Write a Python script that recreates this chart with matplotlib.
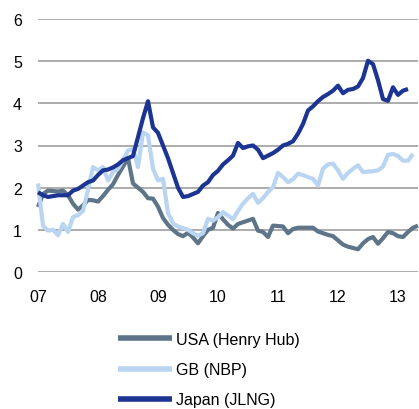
import matplotlib
matplotlib.use("Agg")
import matplotlib.pyplot as plt

plt.rcParams['font.family'] = ['Liberation Sans', 'DejaVu Sans']

year_labels = ["07", "08", "09", "10", "11", "12", "13"]

usa = [1.54, 1.85, 1.93, 1.92, 1.91, 1.93, 1.82, 1.62, 1.48, 1.58,
       1.71, 1.70, 1.67, 1.80, 1.95, 2.08, 2.30, 2.50, 2.70, 2.10,
       2.00, 1.90, 1.75, 1.74, 1.55, 1.28, 1.12, 1.00, 0.90, 0.85,
       0.93, 0.82, 0.68, 0.85, 1.00, 1.05, 1.40, 1.25, 1.12, 1.03,
       1.14, 1.18, 1.22, 1.26, 0.98, 0.95, 0.83, 1.10, 1.09, 1.08,
       0.92, 1.02, 1.05, 1.05, 1.05, 1.05, 0.96, 0.92, 0.88, 0.85,
       0.75, 0.65, 0.60, 0.57, 0.54, 0.68, 0.78, 0.83, 0.67, 0.80,
       0.95, 0.92, 0.85, 0.83, 0.95, 1.05, 1.10]

gb = [2.10, 1.10, 0.98, 1.00, 0.87, 1.14, 0.95, 1.30, 1.35, 1.45,
      1.95, 2.49, 2.41, 2.49, 2.17, 2.37, 2.45, 2.65, 2.88, 2.92,
      2.49, 3.31, 3.24, 2.45, 2.17, 2.21, 1.40, 1.15, 1.08, 1.04,
      1.00, 0.92, 0.86, 0.92, 1.26, 1.22, 1.30, 1.42, 1.34, 1.25,
      1.45, 1.62, 1.75, 1.85, 1.64, 1.75, 1.90, 2.01, 2.35, 2.25,
      2.13, 2.20, 2.33, 2.30, 2.25, 2.21, 2.05, 2.45, 2.55, 2.57,
      2.41, 2.21, 2.35, 2.45, 2.53, 2.37, 2.38, 2.39, 2.41, 2.50,
      2.78, 2.80, 2.75, 2.64, 2.64, 2.80]

japan = [1.89, 1.82, 1.78, 1.80, 1.82, 1.82, 1.82, 1.93, 1.97, 2.05,
         2.13, 2.17, 2.30, 2.41, 2.43, 2.48, 2.55, 2.65, 2.70, 2.75,
         3.20, 3.65, 4.05, 3.43, 3.30, 3.00, 2.70, 2.35, 2.00, 1.78,
         1.80, 1.85, 1.90, 2.05, 2.13, 2.30, 2.40, 2.55, 2.65, 2.76,
         3.06, 2.94, 2.98, 3.00, 2.90, 2.70, 2.76, 2.82, 2.90, 3.00,
         3.04, 3.10, 3.28, 3.51, 3.83, 3.93, 4.05, 4.15, 4.22, 4.30,
         4.42, 4.24, 4.32, 4.34, 4.40, 4.60, 5.01, 4.93, 4.55, 4.10,
         4.06, 4.38, 4.20, 4.30, 4.34]

series = [("USA (Henry Hub)", usa, "#5e7489"),
          ("GB (NBP)", gb, "#b9d5f1"),
          ("Japan (JLNG)", japan, "#1c3592")]

fig = plt.figure(figsize=(4.19, 4.10), dpi=100)
ax = fig.add_axes([38/419, 1 - 273/410, 380/419, 253/410])

for name, vals, col in series:
    ax.plot(range(len(vals)), vals, color=col, lw=3.0, label=name,
            solid_joinstyle='round', solid_capstyle='butt', clip_on=False)

ax.set_xlim(0, 76)
ax.set_ylim(0, 6)
ax.set_yticks(range(0, 7))
ax.set_xticks([12 * i for i in range(len(year_labels))])
ax.set_xticklabels(year_labels)
ax.yaxis.grid(True, color="#a6a6a6", lw=1.3)
ax.set_axisbelow(True)
for s in ax.spines.values():
    s.set_visible(False)
ax.tick_params(axis='both', length=0, labelsize=11.5, colors="#000000")
ax.tick_params(axis='y', pad=11.5)
ax.tick_params(axis='x', pad=12)

leg = fig.legend(loc='upper left', bbox_to_anchor=(118/419, 1 - 333/410),
                 frameon=False, fontsize=11.5, handlelength=3.4,
                 handletextpad=0.25, labelspacing=0.95, borderpad=0,
                 borderaxespad=0)
for h in leg.get_lines():
    h.set_linewidth(4)

fig.savefig("out.png", dpi=100)
